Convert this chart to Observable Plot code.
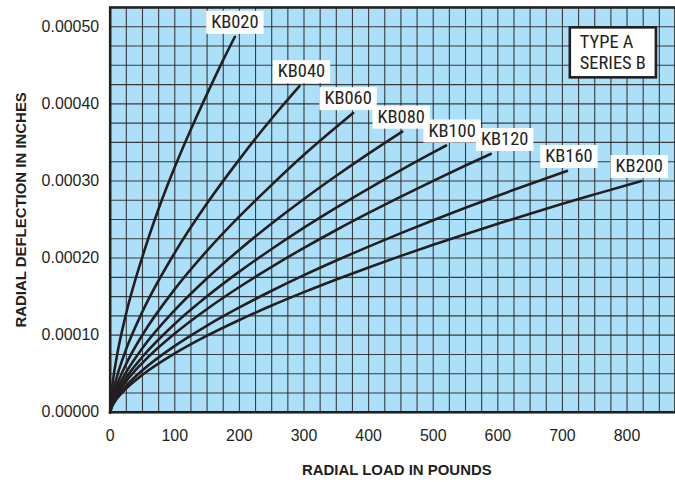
<!DOCTYPE html>
<html>
<head>
<meta charset="utf-8">
<script src="https://cdn.jsdelivr.net/npm/d3@7"></script>
<script src="https://cdn.jsdelivr.net/npm/@observablehq/plot@0.6"></script>
<style>
  html, body { margin: 0; padding: 0; background: #ffffff; }
  #chart { width: 675px; height: 482px; overflow: hidden; }
</style>
</head>
<body>
<div id="chart"></div>
<script>
// ---- Data (load in pounds, deflection in inches) ----
const seriesNames = ["KB020", "KB040", "KB060", "KB080", "KB100", "KB120", "KB160", "KB200"];

const kb020Load = [0, 2, 5, 10, 25, 50, 75, 100, 125, 150, 175, 193];
const kb020Defl = [0, 0.000025, 0.0000453, 0.0000711, 0.000129, 0.000202, 0.000264, 0.000318, 0.000367, 0.000413, 0.000457, 0.000487];

const kb040Load = [0, 2, 5, 10, 25, 50, 100, 150, 200, 250, 293];
const kb040Defl = [0, 0.0000154, 0.0000283, 0.0000448, 0.0000824, 0.0001306, 0.000207, 0.000271, 0.000328, 0.000381, 0.000423];

const kb060Load = [0, 2, 5, 10, 25, 50, 100, 150, 200, 250, 300, 350, 376];
const kb060Defl = [0, 0.0000116, 0.0000215, 0.0000341, 0.0000631, 0.0001004, 0.0001597, 0.0002096, 0.000254, 0.000295, 0.000334, 0.00037, 0.000388];

const kb080Load = [0, 2, 5, 10, 25, 50, 100, 150, 200, 250, 300, 350, 400, 452];
const kb080Defl = [0, 0.0000096, 0.0000178, 0.0000283, 0.0000523, 0.0000833, 0.0001325, 0.0001738, 0.0002108, 0.0002448, 0.0002766, 0.0003067, 0.0003354, 0.000364];

const kb100Load = [0, 2, 5, 10, 25, 50, 100, 150, 200, 250, 300, 350, 400, 450, 500, 520];
const kb100Defl = [0, 0.0000083, 0.0000154, 0.0000245, 0.0000453, 0.000072, 0.0001147, 0.0001504, 0.0001824, 0.0002118, 0.0002394, 0.0002654, 0.0002902, 0.0003141, 0.000337, 0.000346];

const kb120Load = [0, 2, 5, 10, 25, 50, 100, 150, 200, 250, 300, 350, 400, 450, 500, 550, 589];
const kb120Defl = [0, 0.0000074, 0.0000137, 0.0000218, 0.0000403, 0.0000642, 0.0001021, 0.000134, 0.0001625, 0.0001887, 0.0002132, 0.0002364, 0.0002585, 0.0002797, 0.0003002, 0.00032, 0.000335];

const kb160Load = [0, 2, 5, 10, 25, 50, 100, 150, 200, 250, 300, 350, 400, 450, 500, 550, 600, 650, 707];
const kb160Defl = [0, 0.0000065, 0.0000119, 0.0000188, 0.0000345, 0.0000545, 0.0000861, 0.0001125, 0.000136, 0.0001576, 0.0001778, 0.0001968, 0.0002149, 0.0002323, 0.0002491, 0.0002652, 0.0002809, 0.0002961, 0.000313];

const kb200Load = [0, 2, 5, 10, 25, 50, 100, 150, 200, 250, 300, 350, 400, 450, 500, 550, 600, 650, 700, 750, 822];
const kb200Defl = [0, 0.000006, 0.0000109, 0.0000171, 0.000031, 0.0000486, 0.0000763, 0.0000993, 0.0001197, 0.0001384, 0.0001558, 0.0001722, 0.0001878, 0.0002028, 0.0002172, 0.000231, 0.0002445, 0.0002576, 0.0002703, 0.0002826, 0.0003];

const xTickValues = [0, 100, 200, 300, 400, 500, 600, 700, 800];
const yTickValues = [0, 0.0001, 0.0002, 0.0003, 0.0004, 0.0005];
const xTitle = "RADIAL LOAD IN POUNDS";
const yTitle = "RADIAL DEFLECTION IN INCHES";
const boxLines = ["TYPE A", "SERIES B"];

// ---- Build tidy table ----
const loads = [kb020Load, kb040Load, kb060Load, kb080Load, kb100Load, kb120Load, kb160Load, kb200Load];
const defls = [kb020Defl, kb040Defl, kb060Defl, kb080Defl, kb100Defl, kb120Defl, kb160Defl, kb200Defl];
const rows = [];
seriesNames.forEach((name, i) => {
  loads[i].forEach((x, j) => rows.push({series: name, load: x, defl: defls[i][j]}));
});
const ends = seriesNames.map((name, i) => ({
  series: name,
  load: loads[i][loads[i].length - 1],
  defl: defls[i][defls[i].length - 1]
}));

// ---- Styling ----
const ink = "#231f20";
const bg = "#abe0f8";
const labelFont = "'Liberation Sans Narrow', 'Roboto Condensed', 'Arial Narrow', 'Liberation Sans', Arial, sans-serif";
const labelDx = [0, 2, -5, -1, 6, 14, 2, -2];
const gridX = d3.range(0, 876, 25);
const gridY = d3.range(0, 0.00053, 0.000025);

const chart = Plot.plot({
  width: 677,
  height: 482,
  marginLeft: 110,
  marginRight: 0,
  marginTop: 7,
  marginBottom: 69,
  style: {fontFamily: "'Liberation Sans', Arial, sans-serif", fontSize: "16px", color: ink, background: "white", overflow: "visible"},
  x: {domain: [0, 875], ticks: xTickValues, tickFormat: d => String(d), tickSize: 0, tickPadding: 17, label: null},
  y: {domain: [0, 0.000525], ticks: yTickValues, tickFormat: d3.format(".5f"), tickSize: 0, tickPadding: 11, label: null},
  marks: [
    Plot.frame({fill: bg}),
    Plot.ruleX(gridX, {stroke: ink, strokeWidth: 1.1, strokeOpacity: 0.85}),
    Plot.ruleY(gridY, {stroke: ink, strokeWidth: 1.1, strokeOpacity: 0.85}),
    Plot.line(rows, {x: "load", y: "defl", z: "series", stroke: ink, strokeWidth: 2.6, curve: "monotone-x", strokeLinecap: "round"}),
    Plot.frame({stroke: ink, strokeWidth: 2.6}),
    ...ends.map((e, i) => Plot.text([e], {
      x: "load", y: "defl", text: "series",
      dx: labelDx[i], dy: -9,
      lineAnchor: "bottom", textAnchor: "middle",
      fontSize: 18.5, fontFamily: labelFont, fill: ink
    })),
    Plot.text([boxLines.join("\n")], {
      frameAnchor: "top-right", textAnchor: "start", lineAnchor: "top",
      dx: -96, dy: 26, lineHeight: 1.14,
      fontSize: 18.5, fontFamily: labelFont, fill: ink
    }),
    Plot.text([xTitle], {
      frameAnchor: "bottom", dx: 4, dy: 58, lineAnchor: "middle",
      fontSize: 15, fontWeight: "bold", fill: ink
    }),
    Plot.text([yTitle], {
      frameAnchor: "left", dx: -89, rotate: -90, lineAnchor: "middle", textAnchor: "middle",
      fontSize: 15, fontWeight: "bold", fill: ink
    })
  ]
});

document.getElementById("chart").append(chart);

// White boxes behind curve labels and the type box (found by their text)
const ns = "http://www.w3.org/2000/svg";
function boxBehind(t, padX, padTop, padBottom, stroke, sw) {
  const b = t.getBBox();
  const r = document.createElementNS(ns, "rect");
  r.setAttribute("x", b.x - padX);
  r.setAttribute("y", b.y - padTop);
  r.setAttribute("width", b.width + 2 * padX);
  r.setAttribute("height", b.height + padTop + padBottom);
  r.setAttribute("fill", "white");
  r.setAttribute("stroke", stroke);
  r.setAttribute("stroke-width", sw);
  const tr = t.getAttribute("transform");
  if (tr) r.setAttribute("transform", tr);
  t.parentNode.insertBefore(r, t);
}
chart.querySelectorAll("text").forEach(t => {
  const s = t.textContent;
  if (seriesNames.includes(s)) boxBehind(t, 5, 0, 1, "none", 0);
  else if (s.startsWith(boxLines[0]) && s.includes(boxLines[1])) boxBehind(t, 10, 4, 3, ink, 2.6);
});
</script>
</body>
</html>
